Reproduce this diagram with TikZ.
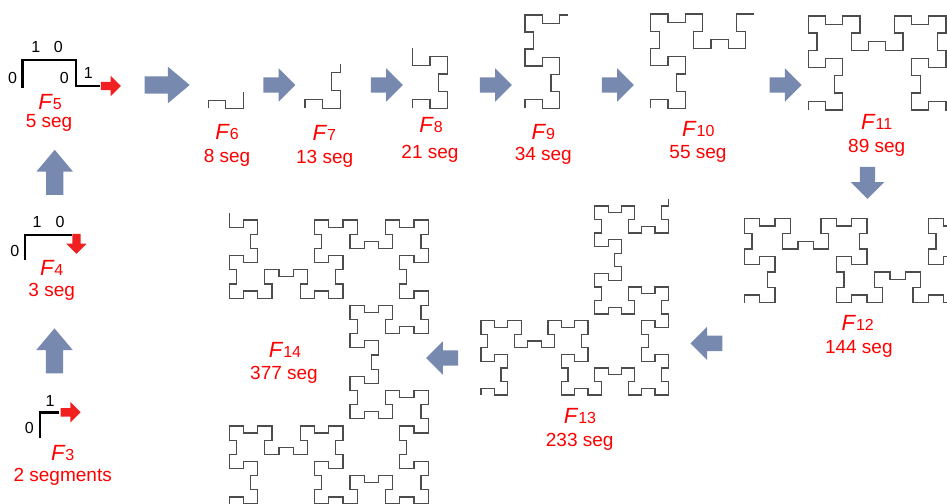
\documentclass[tikz,border=0pt]{standalone}
\usepackage{fontspec}
\setmainfont{Liberation Sans}
\usetikzlibrary{positioning,shapes.arrows}
\definecolor{arrowblue}{RGB}{120,137,176}
\definecolor{arrowred}{RGB}{240,32,32}

\newcommand\Fn[1]{\textit{F}{\fontsize{16}{18}\selectfont #1}}
% floor(n*phi), integer arithmetic
\newcommand\fibfl[1]{\numexpr((#1)*1618034-500000)/1000000\relax}
% turtle walk along the Fibonacci word
\newcommand\fibbuild[1]{%
  \xdef\fibdir{0}\xdef\fibx{0}\xdef\fiby{0}%
  \xdef\fibsteps{}%
  \foreach \k in {1,...,#1}{%
    \ifcase\fibdir \xdef\fiby{\the\numexpr\fiby+1\relax}%
    \or \xdef\fibx{\the\numexpr\fibx+1\relax}%
    \or \xdef\fiby{\the\numexpr\fiby-1\relax}%
    \or \xdef\fibx{\the\numexpr\fibx-1\relax}%
    \fi
    \xdef\fibsteps{\fibsteps -- (\fibx,\fiby)}%
    \ifnum\numexpr2+\fibfl{\k}-\fibfl{\k+1}\relax=0
      \ifodd\k \xdef\fibdir{\the\numexpr\fibdir+1\relax}%
      \else \xdef\fibdir{\the\numexpr\fibdir+3\relax}\fi
      \ifnum\fibdir>3 \xdef\fibdir{\the\numexpr\fibdir-4\relax}\fi
    \fi
  }}
% name, segments, start, x unit, y unit
\newcommand\fibcurve[5]{%
  \fibbuild{#2}%
  \begin{scope}[shift={#3},x=#4,y=#5]
    \coordinate (#1) at (0,0);
    \draw[CurveStyle] (#1) \fibsteps;
  \end{scope}}

\begin{document}
\begin{tikzpicture}[x=1pt,y=-1pt]
  \tikzset{CurveStyle/.style = {
    draw          = black!70,
    line width    = 1.2pt,
    line join     = miter
    }
  }
  \tikzset{StepStyle/.style = {
    draw          = black,
    line width    = 2.6pt,
    line join     = miter
    }
  }
  \tikzset{BigArrowStyle/.style = {
    shape                   = single arrow,
    fill                    = arrowblue,
    inner xsep              = 0pt,
    inner ysep              = 8.5pt,
    single arrow head extend = 9.5pt,
    single arrow tip angle  = 80,
    minimum width           = 0pt,
    minimum height          = 45pt
    }
  }
  \tikzset{ArrowStyle/.style = {
    shape                   = single arrow,
    fill                    = arrowblue,
    inner xsep              = 0pt,
    inner ysep              = 7.5pt,
    single arrow head extend = 9pt,
    single arrow tip angle  = 90,
    minimum width           = 0pt,
    minimum height          = 32pt
    }
  }
  \tikzset{RedArrowStyle/.style = {
    shape                   = single arrow,
    fill                    = arrowred,
    inner xsep              = 0pt,
    inner ysep              = 4pt,
    single arrow head extend = 6pt,
    single arrow tip angle  = 90,
    minimum width           = 0pt,
    minimum height          = 20pt
    }
  }
  \tikzset{TitleStyle/.style = {
    text          = red,
    inner sep     = 0pt,
    font          = \fontsize{22}{24}\selectfont
    }
  }
  \tikzset{SegStyle/.style = {
    text          = red,
    inner sep     = 0pt,
    font          = \fontsize{19}{21}\selectfont
    }
  }
  \tikzset{DigitStyle/.style = {
    text          = black,
    inner sep     = 0pt,
    font          = \fontsize{16}{18}\selectfont
    }
  }

  \useasboundingbox (0,0) rectangle (947,503);
  \clip (0,0) rectangle (947,503);

  % first stages, drawn by hand
  \draw[StepStyle] (40,438) -- (40,412.3) -- (59,412.3);
  \node[RedArrowStyle](R3) at (68.5,412.3) {};
  \node[DigitStyle](d30) at (29.2,427.5) {0};
  \node[DigitStyle](d31) at (50,400.8) {1};

  \draw[StepStyle] (25,260) -- (25,235) -- (72,235);
  \node[RedArrowStyle, rotate=-90](R4) at (76.5,241.7) {};
  \node[DigitStyle](d40) at (14.7,250.8) {0};
  \node[DigitStyle](d41) at (37,221.7) {1};
  \node[DigitStyle](d42) at (60,221.7) {0};

  \draw[StepStyle] (22.7,88) -- (22.7,60) -- (76,60) -- (76,86) -- (99.5,86);
  \node[RedArrowStyle](R5) at (108.7,86) {};
  \node[DigitStyle](d50) at (12.5,77.5) {0};
  \node[DigitStyle](d51) at (35.8,46.7) {1};
  \node[DigitStyle](d52) at (58.3,46.7) {0};
  \node[DigitStyle](d53) at (64.2,77.5) {0};
  \node[DigitStyle](d54) at (88.3,73.3) {1};

  % Fibonacci word fractals
  \fibcurve{C6}{8}{(208.3,108.3)}{8.75pt}{8pt}
  \fibcurve{C7}{13}{(305,108.3)}{8.9pt}{8.87pt}
  \fibcurve{C8}{21}{(412.7,108.3)}{8.67pt}{8.57pt}
  \fibcurve{C9}{34}{(525,108.3)}{8.67pt}{8.48pt}
  \fibcurve{C10}{55}{(650.7,108.3)}{8.61pt}{8.57pt}
  \fibcurve{C11}{89}{(808.3,110)}{8.6pt}{8.55pt}
  \fibcurve{C12}{144}{(744.3,302.7)}{7.67pt}{7.67pt}
  \fibcurve{C13}{233}{(481,395)}{6.69pt}{6.75pt}
  \fibcurve{C14}{377}{(229.3,504)}{7.1pt}{7.1pt}

  % labels
  \node[TitleStyle](T3) at (62.7,453) {\Fn{3}};
  \node[SegStyle](S3) at (62.7,476.7) {2 segments};
  \node[TitleStyle](T4) at (51.7,268) {\Fn{4}};
  \node[SegStyle](S4) at (51.7,291.7) {3 seg};
  \node[TitleStyle](T5) at (50,102) {\Fn{5}};
  \node[SegStyle](S5) at (49,123) {5 seg};
  \node[TitleStyle](T6) at (227,132) {\Fn{6}};
  \node[SegStyle](S6) at (227,158) {8 seg};
  \node[TitleStyle](T7) at (324.3,132.5) {\Fn{7}};
  \node[SegStyle](S7) at (324.7,159) {13 seg};
  \node[TitleStyle](T8) at (431,125) {\Fn{8}};
  \node[SegStyle](S8) at (430,154) {21 seg};
  \node[TitleStyle](T9) at (543.3,132) {\Fn{9}};
  \node[SegStyle](S9) at (543.3,156) {34 seg};
  \node[TitleStyle](T10) at (698.3,129) {\Fn{10}};
  \node[SegStyle](S10) at (698,154) {55 seg};
  \node[TitleStyle](T11) at (876.7,122) {\Fn{11}};
  \node[SegStyle](S11) at (876.7,147.5) {89 seg};
  \node[TitleStyle](T12) at (857.7,323) {\Fn{12}};
  \node[SegStyle](S12) at (858.8,349) {144 seg};
  \node[TitleStyle](T13) at (580,415.7) {\Fn{13}};
  \node[SegStyle](S13) at (579.7,441.7) {233 seg};
  \node[TitleStyle](T14) at (285,350) {\Fn{14}};
  \node[SegStyle](S14) at (284,375) {377 seg};

  % arrows between stages
  \node[BigArrowStyle, rotate=90](A1) at (54.5,356) {};
  \node[BigArrowStyle, rotate=90](A2) at (54.7,177.5) {};
  \node[BigArrowStyle](A3) at (162,85) {};
  \node[ArrowStyle](A4) at (275.5,85) {};
  \node[ArrowStyle](A5) at (383,85) {};
  \node[ArrowStyle](A6) at (492,85) {};
  \node[ArrowStyle](A7) at (614,85) {};
  \node[ArrowStyle](A8) at (781.7,85) {};
  \node[ArrowStyle, rotate=-90](A9) at (867.5,179) {};
  \node[ArrowStyle, rotate=180](A10) at (710.3,343.3) {};
  \node[ArrowStyle, rotate=180](A11) at (446,358) {};
\end{tikzpicture}
\end{document}
